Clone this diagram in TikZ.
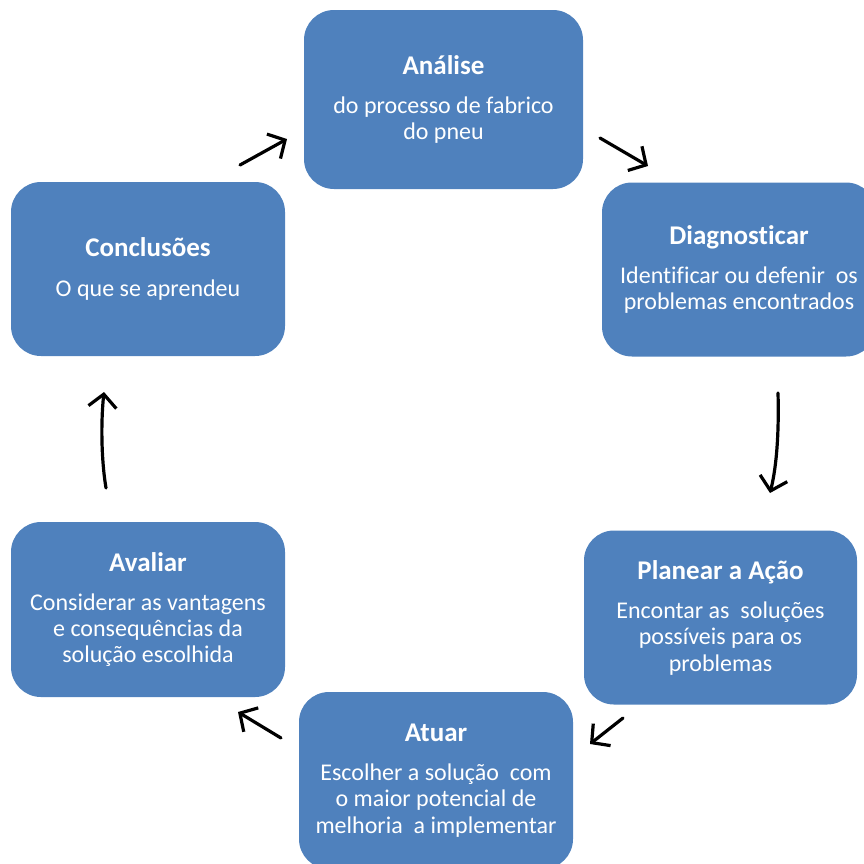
\documentclass[tikz,border=0pt]{standalone}
\usepackage{fontspec}
\setmainfont{Carlito}[Ligatures=CommonOff]
\usetikzlibrary{arrows.meta}
\definecolor{boxblue}{HTML}{4F81BD}
\begin{document}
\begin{tikzpicture}[x=1pt,y=-1pt,
  stagebox/.style={fill=boxblue, rounded corners=30pt, minimum width=274pt,
    minimum height=175pt, text=white, align=center, inner sep=0pt,
    font=\fontsize{24}{26.3}\selectfont},
  flow/.style={line width=3.2pt, line cap=round,
    -{Straight Barb[length=13pt,width=28pt,line width=3.2pt]}}]
\useasboundingbox (0,0) rectangle (864,863);
\clip (0,0) rectangle (864,863);
\newcommand\stagetitle[1]{\textbf{\fontsize{27}{26.3}\selectfont #1}\\[13pt]}

% stages of the cycle
\node[stagebox, minimum width=279pt, minimum height=179pt] (anal) at (443.5,99.5)
  {\stagetitle{Análise}do processo de fabrico\\do pneu};
\node[stagebox, minimum height=174pt] (diag) at (739,269.5)
  {\stagetitle{Diagnosticar}Identificar ou defenir\ \ os\\problemas encontrados};
\node[stagebox, minimum width=273pt, minimum height=174pt] (plan) at (720.5,617.5)
  {\stagetitle{Planear a Ação}Encontar as\ \ soluções\\possíveis para os\\problemas};
\node[stagebox, minimum height=177pt] (atuar) at (436,780.5)
  {\stagetitle{Atuar}Escolher a solução\ \ com\\o maior potencial de\\melhoria\ \ a implementar};
\node[stagebox] (aval) at (148,609.5)
  {\stagetitle{Avaliar}Considerar as vantagens\\e consequências da\\solução escolhida};
\node[stagebox, minimum height=174pt] (conc) at (148,269)
  {\stagetitle{Conclusões}O que se aprendeu};

% arrow end points between the stages
\coordinate (c1s) at (240,165); \coordinate (c1e) at (287,139);
\coordinate (c2s) at (600,138); \coordinate (c2e) at (648,166);
\coordinate (c3s) at (778,393); \coordinate (c3e) at (770,493);
\coordinate (c4s) at (623,718); \coordinate (c4e) at (590,744);
\coordinate (c5s) at (281,738); \coordinate (c5e) at (238,712);
\coordinate (c6s) at (106,488); \coordinate (c6e) at (104,392);

\draw[flow] (c1s) -- (c1e);
\draw[flow] (c2s) -- (c2e);
\draw[flow] (c3s) .. controls (779,430) and (777,465) .. (c3e);
\draw[flow] (c4s) -- (c4e);
\draw[flow] (c5s) -- (c5e);
\draw[flow] (c6s) .. controls (101,458) and (101,420) .. (c6e);
\end{tikzpicture}
\end{document}
